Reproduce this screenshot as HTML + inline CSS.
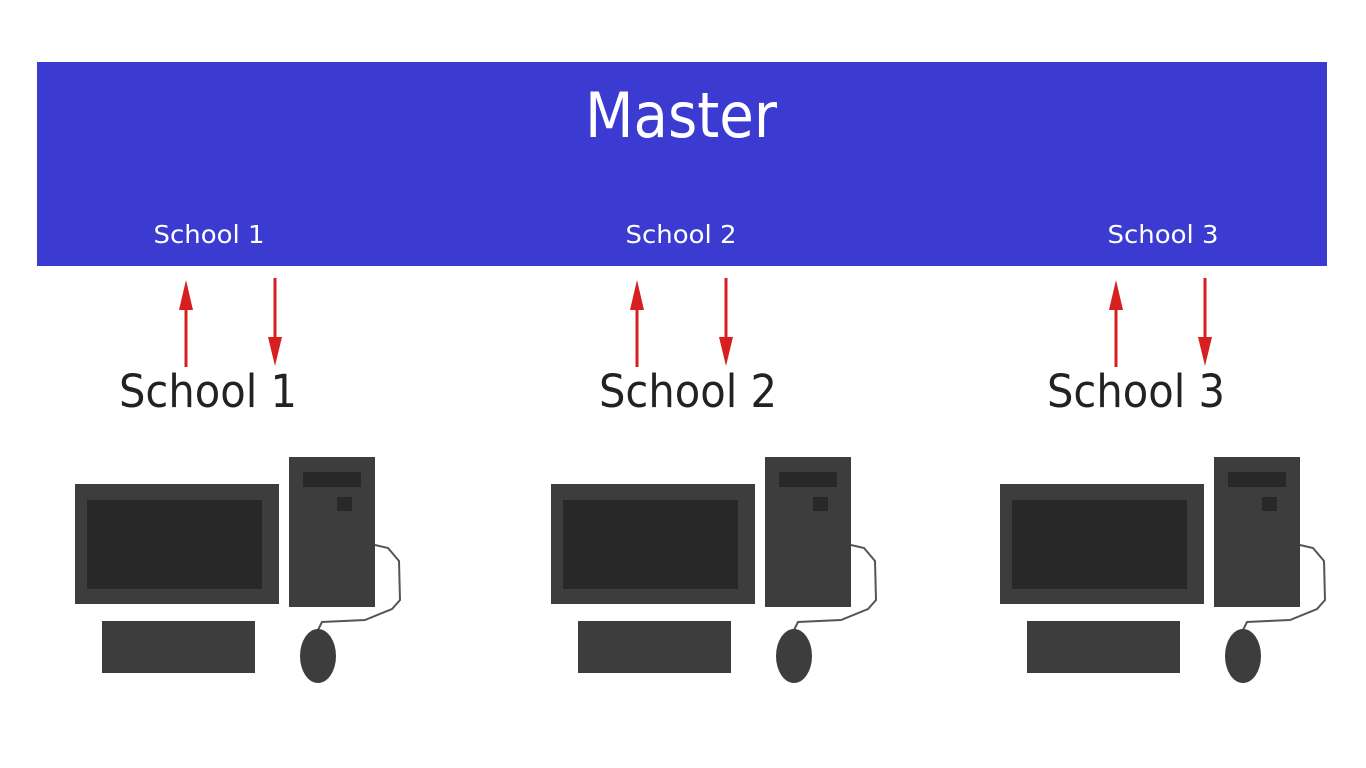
<!DOCTYPE html>
<html><head><meta charset="utf-8"><style>
html,body{margin:0;padding:0;background:#fff;width:1366px;height:768px;overflow:hidden}
svg{display:block}
text{font-family:"DejaVu Sans","Liberation Sans",sans-serif}
</style></head><body>
<svg width="1366" height="768" viewBox="0 0 1366 768" xmlns="http://www.w3.org/2000/svg">
<defs>
<g id="pc">
<rect x="75" y="484" width="204" height="120" fill="#3d3d3d"/>
<rect x="87" y="500" width="175" height="89" fill="#282828"/>
<rect x="289" y="457" width="86" height="150" fill="#3d3d3d"/>
<rect x="303" y="472" width="58" height="15" fill="#282828"/>
<rect x="337" y="497" width="15" height="14" fill="#282828"/>
<rect x="102" y="621" width="153" height="52" fill="#3d3d3d"/>
<path d="M375 545 L388 548 L399 561 L400 600 L392 609 L365 620 L322 622 L318 630" fill="none" stroke="#555" stroke-width="2"/>
<ellipse cx="318" cy="656" rx="18" ry="27" fill="#3d3d3d"/>
</g>
<g id="arr">
<line x1="186" y1="367" x2="186" y2="305" stroke="#d71f1f" stroke-width="3"/>
<polygon points="186,280 179,310 193,310" fill="#d71f1f"/>
<line x1="275" y1="278" x2="275" y2="340" stroke="#d71f1f" stroke-width="3"/>
<polygon points="275,366 268,337 282,337" fill="#d71f1f"/>
</g>
</defs>
<rect x="37" y="62" width="1290" height="204" fill="#3b3bd1"/>
<text x="681" y="137" font-size="62" fill="#fff" text-anchor="middle" textLength="192" lengthAdjust="spacingAndGlyphs">Master</text>
<text x="209" y="243" font-size="25" fill="#fff" text-anchor="middle" textLength="111" lengthAdjust="spacingAndGlyphs">School 1</text>
<text x="681" y="243" font-size="25" fill="#fff" text-anchor="middle" textLength="111" lengthAdjust="spacingAndGlyphs">School 2</text>
<text x="1163" y="243" font-size="25" fill="#fff" text-anchor="middle" textLength="111" lengthAdjust="spacingAndGlyphs">School 3</text>
<use href="#arr"/>
<use href="#arr" transform="translate(451,0)"/>
<use href="#arr" transform="translate(930,0)"/>
<text x="208" y="407" font-size="45" fill="#222" text-anchor="middle" textLength="178" lengthAdjust="spacingAndGlyphs">School 1</text>
<text x="688" y="407" font-size="45" fill="#222" text-anchor="middle" textLength="178" lengthAdjust="spacingAndGlyphs">School 2</text>
<text x="1136" y="407" font-size="45" fill="#222" text-anchor="middle" textLength="178" lengthAdjust="spacingAndGlyphs">School 3</text>
<use href="#pc"/>
<use href="#pc" transform="translate(476,0)"/>
<use href="#pc" transform="translate(925,0)"/>
</svg>
</body></html>
